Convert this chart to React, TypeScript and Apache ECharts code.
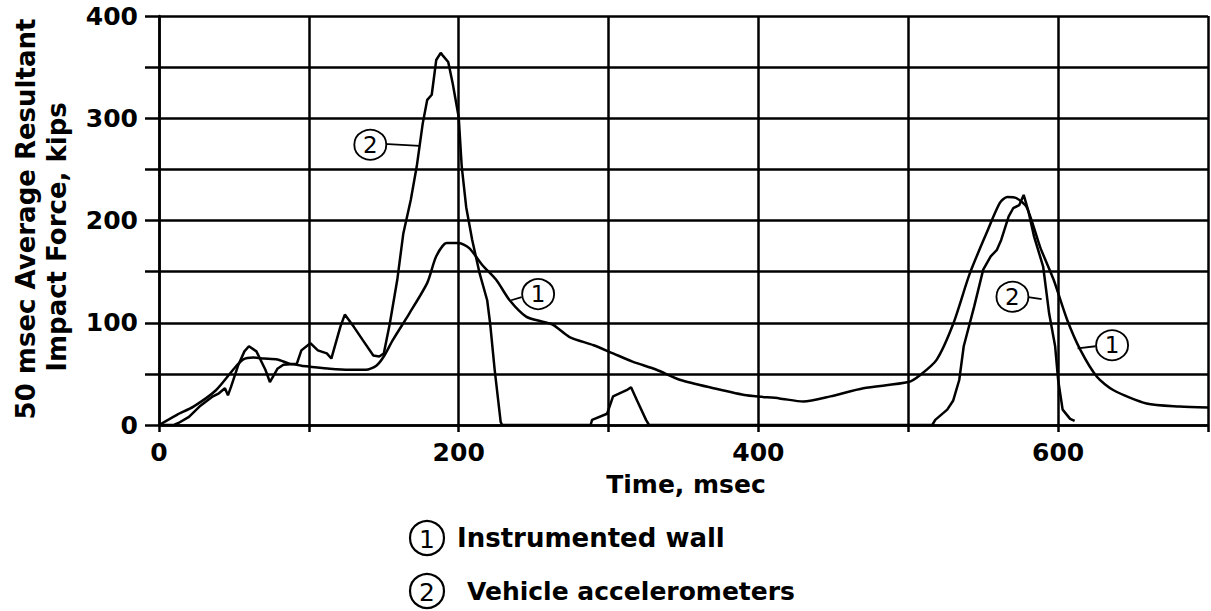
import React, { useEffect, useRef } from "react";
import * as echarts from "echarts";

// Time (msec) and force (kips) pairs
const wallTime = [0, 12, 23, 38, 50, 56, 63, 70, 79, 87, 95, 101, 114, 127, 138, 145, 150, 156, 167, 179, 185, 192, 200, 207, 216, 225, 234, 245, 256, 263, 274, 290, 303, 316, 332, 348, 370, 392, 414, 430, 448, 470, 500, 508, 519, 530, 541, 552, 561, 566, 572, 579, 588, 597, 606, 615, 626, 637, 659, 681, 700];
const wallForce = [0, 10, 18, 34, 55, 64, 66, 65, 64, 60, 58, 57, 55, 54, 54, 58, 67, 83, 109, 139, 165, 178, 178, 173, 156, 142, 122, 106, 101, 98, 86, 78, 70, 62, 54, 44, 36, 29, 26, 23, 28, 36, 42, 49, 64, 99, 148, 187, 217, 223, 222, 213, 174, 142, 103, 73, 47, 34, 21, 18, 17];

const vehTime = [0, 10, 13, 20, 27, 36, 40, 44, 46, 48, 53, 57, 60, 65, 71, 74, 79, 83, 92, 95, 101, 106, 112, 115, 121, 124, 130, 136, 143, 147, 150, 154, 159, 163, 168, 172, 174, 176, 179, 182, 185, 188, 189, 193, 196, 200, 202, 205, 209, 214, 219, 221, 224, 228, 229, 288, 289, 299, 303, 312, 315, 319, 325, 327, 516, 518, 526, 530, 534, 537, 544, 550, 555, 559, 562, 567, 570, 574, 577, 580, 584, 590, 594, 598, 600, 603, 608, 611];
const vehForce = [0, 0, 2, 8, 18, 28, 31, 36, 29, 37, 59, 72, 77, 72, 54, 42, 55, 59, 60, 73, 80, 73, 70, 65, 96, 108, 96, 83, 68, 67, 70, 99, 142, 187, 220, 253, 274, 295, 318, 323, 357, 364, 362, 355, 334, 301, 253, 213, 181, 148, 122, 99, 54, 3, 0, 0, 5, 11, 28, 34, 37, 24, 5, 0, 0, 5, 15, 24, 44, 77, 116, 152, 165, 171, 181, 204, 212, 215, 225, 210, 184, 155, 109, 77, 44, 15, 6, 4];

// Curve labels (circle centre, leader start, leader end) in data units
const wallTags = [
  { at: [253, 128], from: [242, 125], to: [235, 122] },
  { at: [636, 78], from: [625, 77], to: [613, 75] },
];
const vehTags = [
  { at: [141, 274], from: [150, 275], to: [174, 273] },
  { at: [569.5, 125.5], from: [580, 125], to: [589, 123] },
];

const xTickLabels = [0, 200, 400, 600];
const yTickLabels = [0, 100, 200, 300, 400];

const FONT = "DejaVu Sans";

function pairs(xs: number[], ys: number[]) {
  return xs.map((x, i) => [x, ys[i]]);
}

function tagMarks(tags: { at: number[]; from: number[]; to: number[] }[], digit: string) {
  return {
    markPoint: {
      symbol: "circle",
      symbolSize: [32, 30],
      itemStyle: { color: "#fff", borderColor: "#000", borderWidth: 1.8 },
      label: { show: true, formatter: digit, color: "#000", fontSize: 23, fontFamily: FONT, position: "inside" },
      data: tags.map((t) => ({ coord: t.at })),
      z: 10,
    },
    markLine: {
      symbol: "none",
      silent: true,
      label: { show: false },
      lineStyle: { color: "#000", width: 1.8, type: "solid" },
      data: tags.map((t) => [{ coord: t.from }, { coord: t.to }]),
    },
  };
}

export default function App() {
  const ref = useRef<HTMLDivElement>(null);
  useEffect(() => {
    if (!ref.current) return;
    const chart = echarts.init(ref.current, null, { renderer: "svg" });
    chart.setOption({
      animation: false,
      backgroundColor: "#fff",
      grid: { left: 159, right: 3, top: 16, bottom: 186, containLabel: false },
      xAxis: {
        type: "value",
        min: 0,
        max: 700,
        interval: 100,
        axisLine: { show: true, onZero: false, lineStyle: { color: "#000", width: 2.5 } },
        axisTick: { show: true, length: 7, inside: false, lineStyle: { color: "#000", width: 2.5 } },
        splitLine: { show: true, lineStyle: { color: "#000", width: 2.5 } },
        axisLabel: {
          margin: 15,
          color: "#000",
          fontFamily: FONT,
          fontWeight: "bold",
          fontSize: 25,
          formatter: (v: number) => (xTickLabels.includes(v) ? String(v) : ""),
        },
      },
      yAxis: {
        type: "value",
        min: 0,
        max: 400,
        interval: 50,
        axisLine: { show: true, lineStyle: { color: "#000", width: 2.5 } },
        axisTick: { show: true, length: 14, inside: false, lineStyle: { color: "#000", width: 2.5 } },
        splitLine: { show: true, lineStyle: { color: "#000", width: 2.5 } },
        axisLabel: {
          margin: 21,
          color: "#000",
          fontFamily: FONT,
          fontWeight: "bold",
          fontSize: 25,
          formatter: (v: number) => (yTickLabels.includes(v) ? String(v) : ""),
        },
      },
      series: [
        {
          name: "Instrumented wall",
          type: "line",
          data: pairs(wallTime, wallForce),
          showSymbol: false,
          smooth: 0.25,
          lineStyle: { color: "#000", width: 2.5 },
          z: 3,
          ...tagMarks(wallTags, "1"),
        },
        {
          name: "Vehicle accelerometers",
          type: "line",
          data: pairs(vehTime, vehForce),
          showSymbol: false,
          lineStyle: { color: "#000", width: 2.5 },
          z: 3,
          ...tagMarks(vehTags, "2"),
        },
      ],
      graphic: [
        {
          type: "text",
          x: 26,
          y: 219,
          rotation: Math.PI / 2,
          style: { text: "50 msec Average Resultant", fill: "#000", font: `bold 26px "${FONT}"`, align: "center", verticalAlign: "middle" },
        },
        {
          type: "text",
          x: 57,
          y: 237,
          rotation: Math.PI / 2,
          style: { text: "Impact Force, kips", fill: "#000", font: `bold 26px "${FONT}"`, align: "center", verticalAlign: "middle" },
        },
        {
          type: "text",
          x: 686,
          y: 484,
          style: { text: "Time, msec", fill: "#000", font: `bold 25px "${FONT}"`, align: "center", verticalAlign: "middle" },
        },
        { type: "circle", shape: { cx: 427, cy: 538, r: 17 }, style: { fill: "#fff", stroke: "#000", lineWidth: 2.2 } },
        { type: "text", x: 427, y: 539, style: { text: "1", fill: "#000", font: `25px "${FONT}"`, align: "center", verticalAlign: "middle" } },
        { type: "text", x: 457, y: 538, style: { text: "Instrumented wall", fill: "#000", font: `bold 26px "${FONT}"`, align: "left", verticalAlign: "middle" } },
        { type: "circle", shape: { cx: 427, cy: 591, r: 17 }, style: { fill: "#fff", stroke: "#000", lineWidth: 2.2 } },
        { type: "text", x: 427, y: 592, style: { text: "2", fill: "#000", font: `25px "${FONT}"`, align: "center", verticalAlign: "middle" } },
        { type: "text", x: 467, y: 591, style: { text: "Vehicle accelerometers", fill: "#000", font: `bold 25px "${FONT}"`, align: "left", verticalAlign: "middle" } },
      ],
    });
    return () => chart.dispose();
  }, []);
  return <div ref={ref} style={{ position: "fixed", left: 0, top: 0, width: 1211, height: 611 }} />;
}
